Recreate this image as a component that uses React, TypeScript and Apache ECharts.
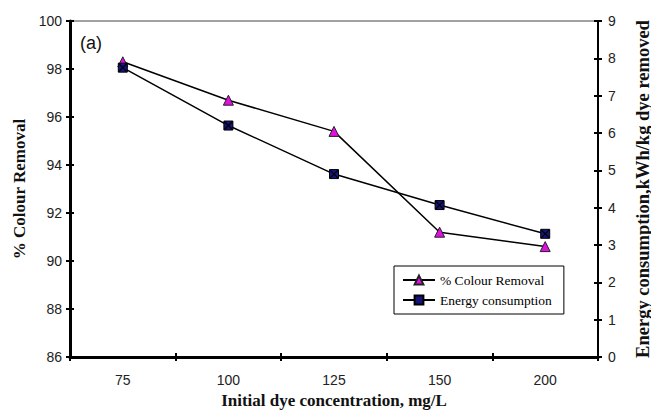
import React, { useEffect, useRef } from "react";
import * as echarts from "echarts";

const categories = ["75", "100", "125", "150", "200"];
const colourRemoval = [98.3, 96.7, 95.4, 91.2, 90.6];
const energyConsumption = [7.75, 6.2, 4.9, 4.07, 3.3];
const leftTicks = { min: 86, max: 100, interval: 2 };
const rightTicks = { min: 0, max: 9, interval: 1 };

export default function App() {
  const ref = useRef<HTMLDivElement>(null);
  useEffect(() => {
    if (!ref.current) return;
    const chart = echarts.init(ref.current, undefined, { renderer: "svg" });
    const sans = "Liberation Sans, Arial, sans-serif";
    const serif = "Liberation Serif, Times New Roman, serif";
    const tickLabel = { fontFamily: sans, fontSize: 14, color: "#222" };
    const nameStyle = { fontFamily: serif, fontSize: 17, fontWeight: "bold" as const, color: "#111" };
    chart.setOption({
      animation: false,
      backgroundColor: "#fff",
      grid: {
        left: 70,
        right: 53,
        top: 21,
        bottom: 53,
        containLabel: false,
        outerBoundsMode: "none",
        show: true,
        borderColor: "#444",
        borderWidth: 1,
      },
      xAxis: [
        {
          type: "category",
          data: categories,
          position: "bottom",
          boundaryGap: true,
          axisLine: { onZero: false, lineStyle: { color: "#000", width: 3 } },
          axisTick: { show: true, length: 4, lineStyle: { color: "#000", width: 2 } },
          axisLabel: { ...tickLabel, margin: 16 },
          name: "Initial dye concentration, mg/L",
          nameLocation: "middle",
          nameGap: 31,
          nameTextStyle: nameStyle,
        },
        {
          type: "category",
          data: categories,
          position: "bottom",
          boundaryGap: true,
          axisLine: { show: false, onZero: false },
          axisTick: { show: true, inside: true, length: 4, lineStyle: { color: "#000", width: 2 } },
          axisLabel: { show: false },
        },
      ],
      yAxis: [
        {
          type: "value",
          position: "left",
          ...leftTicks,
          splitLine: { show: false },
          axisLine: { show: true, lineStyle: { color: "#000", width: 3 } },
          axisTick: { show: true, length: 4, lineStyle: { color: "#000", width: 2 } },
          axisLabel: { ...tickLabel, margin: 8 },
          name: "% Colour Removal",
          nameLocation: "middle",
          nameGap: 37,
          nameRotate: 90,
          nameTextStyle: nameStyle,
        },
        {
          type: "value",
          position: "right",
          ...rightTicks,
          splitLine: { show: false },
          axisLine: { show: true, lineStyle: { color: "#000", width: 2 } },
          axisTick: { show: true, length: 4, lineStyle: { color: "#000", width: 2 } },
          axisLabel: { ...tickLabel, margin: 10 },
          name: "Energy consumption,kWh/kg dye removed",
          nameLocation: "middle",
          nameGap: 35,
          nameRotate: 90,
          nameTextStyle: { ...nameStyle, fontSize: 18.5 },
        },
        {
          type: "value",
          position: "left",
          ...leftTicks,
          splitLine: { show: false },
          axisLine: { show: false },
          axisTick: { show: true, inside: true, length: 4, lineStyle: { color: "#000", width: 2 } },
          axisLabel: { show: false },
        },
        {
          type: "value",
          position: "right",
          ...rightTicks,
          splitLine: { show: false },
          axisLine: { show: false },
          axisTick: { show: true, inside: true, length: 4, lineStyle: { color: "#000", width: 2 } },
          axisLabel: { show: false },
        },
      ],
      legend: {
        data: ["% Colour Removal", "Energy consumption"],
        orient: "vertical",
        left: 394,
        top: 266,
        padding: [7, 12, 7, 8],
        itemGap: 6,
        itemWidth: 32,
        itemHeight: 11,
        borderColor: "#000",
        borderWidth: 1,
        backgroundColor: "#fff",
        textStyle: { fontFamily: serif, fontSize: 13.5, color: "#000" },
      },
      graphic: [
        {
          type: "text",
          left: 80,
          top: 34,
          style: { text: "(a)", fontFamily: sans, fontSize: 18, fill: "#111" },
        },
      ],
      series: [
        {
          name: "% Colour Removal",
          type: "line",
          data: colourRemoval,
          yAxisIndex: 0,
          symbol: "triangle",
          symbolSize: 10,
          lineStyle: { color: "#000", width: 1.5 },
          itemStyle: { color: "#e010e0", borderColor: "#222", borderWidth: 1 },
          z: 3,
        },
        {
          name: "Energy consumption",
          type: "line",
          data: energyConsumption,
          yAxisIndex: 1,
          symbol: "rect",
          symbolSize: 9,
          lineStyle: { color: "#000", width: 1.5 },
          itemStyle: { color: "#14147a", borderColor: "#000", borderWidth: 1 },
          z: 3,
        },
        {
          name: "energyX",
          type: "line",
          data: energyConsumption,
          yAxisIndex: 1,
          symbol: "path://M0,0L10,10M10,0L0,10",
          symbolSize: 8,
          lineStyle: { opacity: 0 },
          itemStyle: { color: "none", borderColor: "#000", borderWidth: 1.2 },
          z: 4,
          silent: true,
        },
      ],
    });
    return () => chart.dispose();
  }, []);
  return <div ref={ref} style={{ position: "absolute", left: 0, top: 0, width: 651, height: 410 }} />;
}
